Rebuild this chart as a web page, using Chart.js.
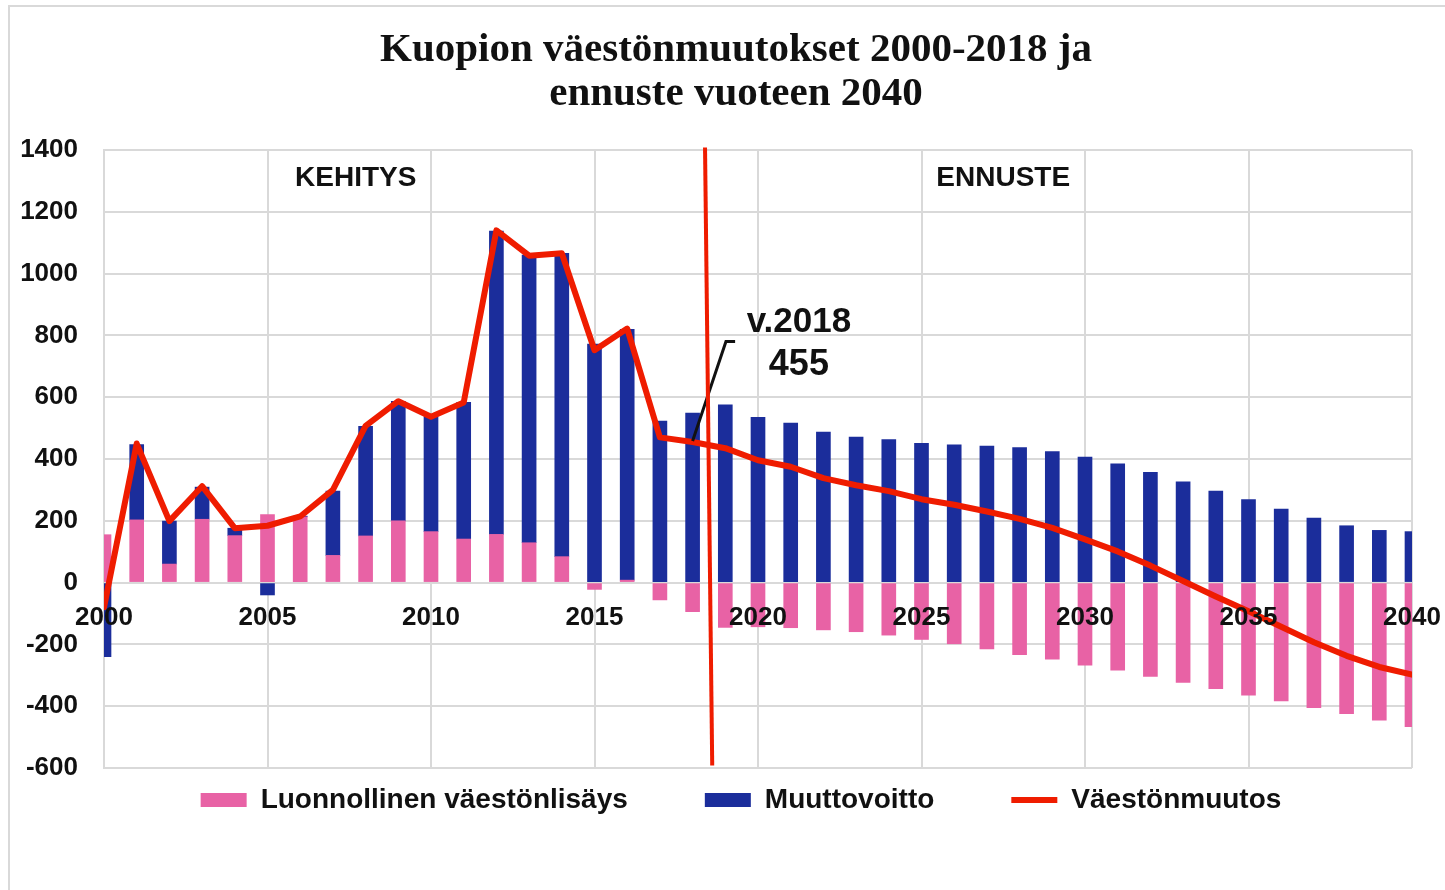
<!DOCTYPE html>
<html>
<head>
<meta charset="utf-8">
<script src="https://cdn.jsdelivr.net/npm/chart.js@4.4.1/dist/chart.umd.min.js"></script>
<style>
  html, body { margin: 0; padding: 0; background: #fff; }
  #frame { position: absolute; left: 8px; top: 5px; width: 1500px; height: 1000px;
           border-top: 2px solid #d9d9d9; border-left: 2px solid #d9d9d9; }
  #wrap { position: absolute; left: 0; top: 0; width: 1445px; height: 890px; }
</style>
</head>
<body>
<div id="frame"></div>
<div id="wrap"><canvas id="chart" width="1445" height="890"></canvas></div>
<script>
// --- data ---
var years = [2000, 2001, 2002, 2003, 2004, 2005, 2006, 2007, 2008, 2009,
             2010, 2011, 2012, 2013, 2014, 2015, 2016, 2017, 2018, 2019,
             2020, 2021, 2022, 2023, 2024, 2025, 2026, 2027, 2028, 2029,
             2030, 2031, 2032, 2033, 2034, 2035, 2036, 2037, 2038, 2039, 2040];

// Luonnollinen väestönlisäys
var natural = [155, 203, 60, 205, 152, 220, 213, 88, 151, 200,
               165, 141, 156, 129, 84, -22, 8, -56, -94, -145,
               -143, -146, -153, -159, -170, -184, -198, -215, -233, -248,
               -267, -283, -304, -323, -343, -364, -383, -405, -424, -445, -466];

// Muuttovoitto
var migration = [-240, 244, 139, 104, 24, -40, 2, 208, 355, 387,
                 372, 442, 982, 931, 982, 772, 812, 523, 549, 575,
                 535, 516, 487, 471, 463, 451, 446, 442, 437, 424,
                 406, 384, 357, 326, 296, 269, 238, 209, 184, 169, 165];

// Väestönmuutos
var total = [-80, 450, 199, 312, 176, 184, 214, 300, 507, 587,
             537, 583, 1140, 1058, 1066, 752, 822, 470, 455, 435,
             396, 375, 338, 315, 296, 270, 252, 230, 206, 177,
             140, 101, 55, 5, -45, -93, -143, -193, -237, -273, -298];

var seriesNames = ['Luonnollinen väestönlisäys', 'Muuttovoitto', 'Väestönmuutos'];
var titleLines = ['Kuopion väestönmuutokset 2000-2018 ja', 'ennuste vuoteen 2040'];
var yTicks = {min: -600, max: 1400, step: 200};
var xTicks = {min: 2000, max: 2040, step: 5};

var PINK = '#e862a5';
var BLUE = '#1b2d9b';
var RED = '#ef1c00';
var GRID = '#d9d9d9';

function points(values) {
    return years.map(function(yr, i) { return {x: yr, y: values[i]}; });
}

// texts and lines that sit on top of the plot
var annotations = {
    id: 'annotations',
    afterLayout: function(chart) {
        // pull legend up under the plot and nudge it left
        var lg = chart.legend;
        lg.top -= 59; lg.bottom -= 59;
        lg.left -= 17; lg.right -= 17;
    },
    afterDraw: function(chart) {
        var ctx = chart.ctx;
        var xs = chart.scales.x, ys = chart.scales.y;
        ctx.save();
        ctx.fillStyle = '#111';
        ctx.textAlign = 'center';
        ctx.textBaseline = 'middle';

        ctx.font = 'bold 41px "Liberation Serif"';
        ctx.fillText(titleLines[0], 736, 50);
        ctx.fillText(titleLines[1], 736, 94);

        ctx.font = 'bold 28px "Liberation Sans"';
        ctx.fillText('KEHITYS', xs.getPixelForValue(2007.7), ys.getPixelForValue(1310));
        ctx.fillText('ENNUSTE', xs.getPixelForValue(2027.5), ys.getPixelForValue(1310));

        ctx.font = 'bold 35px "Liberation Sans"';
        ctx.fillText('v.2018', xs.getPixelForValue(2021.25), ys.getPixelForValue(843));
        ctx.font = 'bold 36px "Liberation Sans"';
        ctx.fillText('455', xs.getPixelForValue(2021.25), ys.getPixelForValue(704));

        // leader line to the 2018 point
        ctx.strokeStyle = '#111';
        ctx.lineWidth = 3;
        ctx.beginPath();
        ctx.moveTo(xs.getPixelForValue(2018.0), ys.getPixelForValue(458));
        ctx.lineTo(xs.getPixelForValue(2019.02), ys.getPixelForValue(780));
        ctx.lineTo(xs.getPixelForValue(2019.3), ys.getPixelForValue(780));
        ctx.stroke();

        // divider between history and forecast
        ctx.strokeStyle = RED;
        ctx.lineWidth = 4;
        ctx.beginPath();
        ctx.moveTo(xs.getPixelForValue(2018.38), ys.getPixelForValue(1408));
        ctx.lineTo(xs.getPixelForValue(2018.6), ys.getPixelForValue(-592));
        ctx.stroke();
        ctx.restore();
    }
};

var ctx = document.getElementById('chart').getContext('2d');
var chart = new Chart(ctx, {
    type: 'bar',
    data: {
        datasets: [{
            label: seriesNames[0],
            data: points(natural),
            backgroundColor: PINK,
            borderWidth: 0,
            barThickness: 14,
            pointStyle: 'rect',
            clip: 0,
            order: 1
        }, {
            label: seriesNames[1],
            data: points(migration),
            backgroundColor: BLUE,
            borderWidth: 0,
            barThickness: 14,
            pointStyle: 'rect',
            clip: 0,
            order: 1
        }, {
            type: 'line',
            label: seriesNames[2],
            data: points(total),
            borderColor: RED,
            backgroundColor: RED,
            borderWidth: 6,
            borderCapStyle: 'round',
            borderJoinStyle: 'round',
            pointRadius: 0,
            pointStyle: 'line',
            tension: 0,
            stack: 'total',
            order: 0
        }]
    },
    options: {
        responsive: false,
        animation: false,
        layout: {padding: {left: 18, right: 33, top: 150, bottom: 7}},
        scales: {
            x: {
                type: 'linear',
                position: {y: 0},
                stacked: true,
                offset: false,
                min: xTicks.min,
                max: xTicks.max,
                afterFit: function(scale) { scale.paddingLeft = 0; scale.paddingRight = 0; },
                grid: {color: GRID, lineWidth: 2, offset: false, tickLength: 5},
                border: {color: GRID, width: 2},
                ticks: {
                    stepSize: xTicks.step,
                    maxRotation: 0,
                    padding: 15,
                    z: 1,
                    color: '#111',
                    font: {family: '"Liberation Sans"', size: 26, weight: 'bold'},
                    callback: function(v) { return String(v); }
                }
            },
            y: {
                stacked: true,
                min: yTicks.min,
                max: yTicks.max,
                afterFit: function(scale) { scale.width = 86; },
                grid: {color: GRID, lineWidth: 2, drawTicks: false},
                border: {color: GRID, width: 2},
                ticks: {
                    stepSize: yTicks.step,
                    padding: 26,
                    color: '#111',
                    font: {family: '"Liberation Sans"', size: 26, weight: 'bold'},
                    callback: function(v) { return String(v); }
                }
            }
        },
        plugins: {
            legend: {
                position: 'bottom',
                fullSize: false,
                labels: {
                    usePointStyle: true,
                    pointStyleWidth: 46,
                    boxHeight: 14,
                    padding: 77,
                    color: '#111',
                    font: {family: '"Liberation Sans"', size: 28, weight: 'bold'},
                    sort: function(a, b) { return a.datasetIndex - b.datasetIndex; }
                }
            },
            tooltip: {enabled: false}
        }
    },
    plugins: [annotations]
});
</script>
</body>
</html>
